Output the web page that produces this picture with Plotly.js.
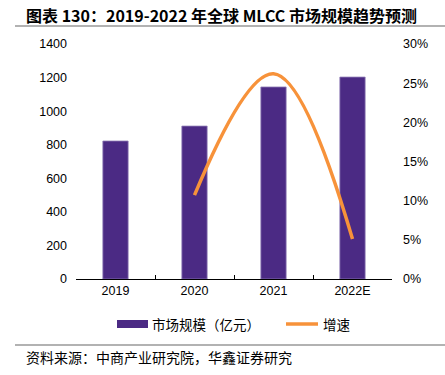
<!DOCTYPE html>
<html><head><meta charset="utf-8">
<script src="https://cdn.plot.ly/plotly-3.0.1.min.js"></script>
<style>html,body{margin:0;padding:0;background:#fff}#c{width:445px;height:375px}</style>
</head><body><div id="c"></div>
<script>
var categories = ['2019', '2020', '2021', '2022E'];
var marketSize = [822, 911, 1144, 1203];
var growthCats = ['2020', '2021', '2022E'];
var growthRate = [0.107, 0.262, 0.051];
var seriesNames = ['市场规模（亿元）', '增速'];

var L = 76, R = 392, T = 44, B = 279;
function px(x){return (x-L)/(R-L);}
function py(y){return (B-y)/(B-T);}

var barColor = '#4B2A84', lineColor = '#F7923A';
var cjk = '"Noto Sans CJK SC", sans-serif';
var data = [
  {type:'bar', x:categories, y:marketSize, name:seriesNames[0], width:0.32,
   marker:{color:barColor, line:{color:'#8E7BB5', width:0.8}}},
  {type:'scatter', mode:'lines', x:growthCats, y:growthRate, name:seriesNames[1], yaxis:'y2',
   line:{color:lineColor, width:3.5, shape:'spline', smoothing:1.1}}
];
var font = {family:'"Liberation Sans", Arial, sans-serif', size:12.5, color:'#000'};
var layout = {
  width:445, height:375, margin:{l:L, r:445-R, t:T, b:375-B},
  paper_bgcolor:'#fff', plot_bgcolor:'#fff', showlegend:false, font:font,
  xaxis:{type:'category', range:[-0.5,3.5], showline:true, linecolor:'#000', linewidth:1,
    ticks:'inside', tickson:'boundaries', ticklen:4, tickcolor:'#000', showgrid:false, zeroline:false,
    tickfont:font, fixedrange:true},
  yaxis:{range:[0,1400], dtick:200, showgrid:false, zeroline:false, showline:false, ticks:'',
    tickfont:font, ticklabelstandoff:8},
  yaxis2:{range:[0,0.30], dtick:0.05, tickformat:'.0%', overlaying:'y', side:'right',
    showgrid:false, zeroline:false, showline:false, ticks:'', tickfont:font, ticklabelstandoff:10},
  shapes:[
    {type:'line', xref:'paper', yref:'paper', x0:px(15), x1:px(445), y0:py(26), y1:py(26), line:{color:'#999', width:1.5}},
    {type:'line', xref:'paper', yref:'paper', x0:px(15), x1:px(445), y0:py(345), y1:py(345), line:{color:'#999', width:1.5}},
    {type:'rect', xref:'paper', yref:'paper', x0:px(117), x1:px(148), y0:py(320), y1:py(328), fillcolor:barColor, line:{width:0}},
    {type:'line', xref:'paper', yref:'paper', x0:px(286), x1:px(318), y0:py(324), y1:py(324), line:{color:lineColor, width:3.5}}
  ],
  annotations:[
    {text:'<b>图表 130：2019-2022 年全球 MLCC 市场规模趋势预测</b>', xref:'paper', yref:'paper', x:px(24), y:py(15),
     xanchor:'left', yanchor:'middle', showarrow:false, font:{family:cjk, size:16, color:'#000'}},
    {text:seriesNames[0], xref:'paper', yref:'paper', x:px(150), y:py(324),
     xanchor:'left', yanchor:'middle', showarrow:false, font:{family:cjk, size:13.5, color:'#000'}},
    {text:seriesNames[1], xref:'paper', yref:'paper', x:px(321), y:py(324),
     xanchor:'left', yanchor:'middle', showarrow:false, font:{family:cjk, size:13.5, color:'#000'}},
    {text:'资料来源：中商产业研究院，华鑫证券研究', xref:'paper', yref:'paper', x:px(24), y:py(357),
     xanchor:'left', yanchor:'middle', showarrow:false, font:{family:cjk, size:14, color:'#000'}}
  ]
};
Plotly.newPlot('c', data, layout, {displayModeBar:false, staticPlot:true});
</script></body></html>
